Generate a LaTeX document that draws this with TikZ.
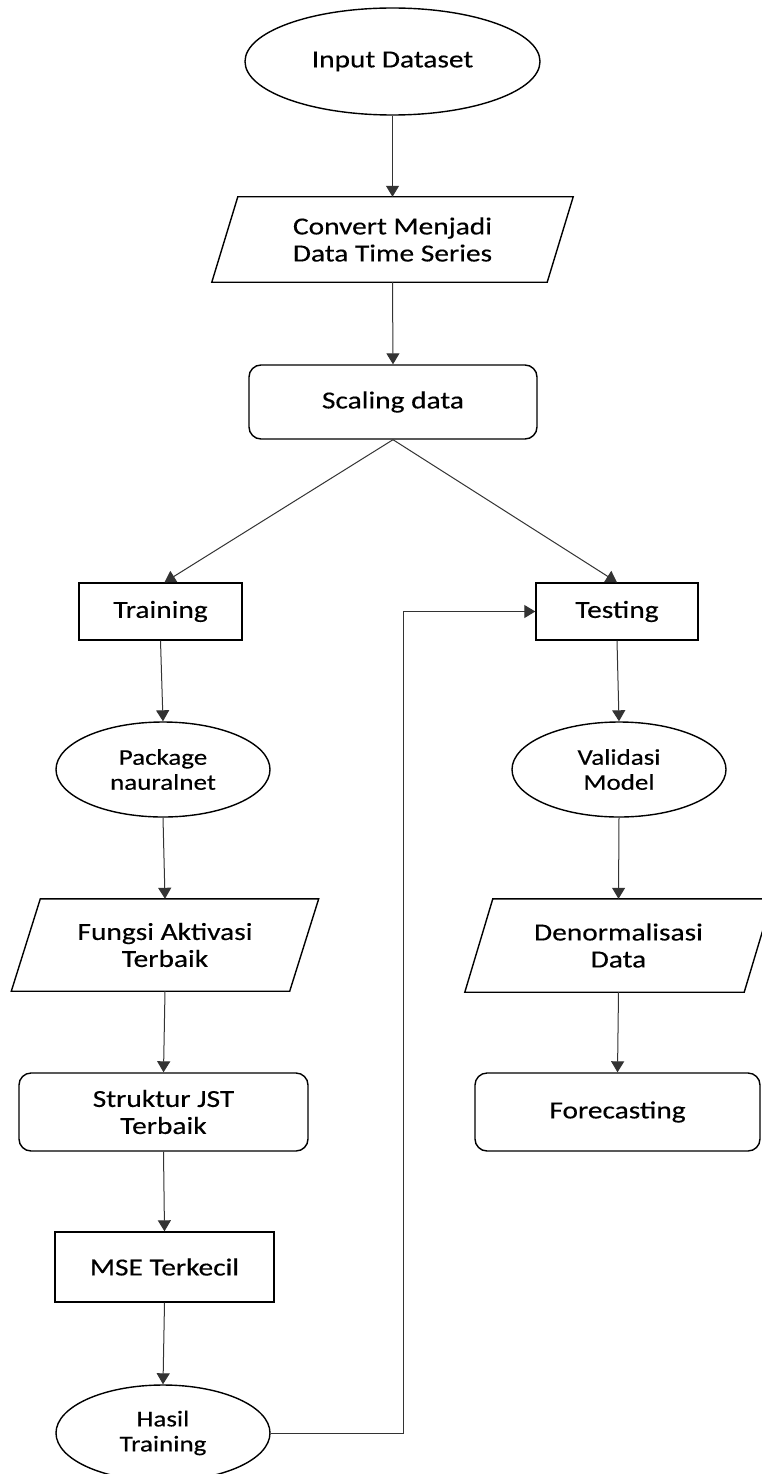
\documentclass[tikz,border=0pt]{standalone}
\usepackage{fontspec}
\setmainfont{Carlito}[FakeStretch=1.2,FakeBold=0.35]
\usetikzlibrary{shapes.geometric,arrows.meta}
\tikzset{
  txtA/.style={font=\fontsize{24.5}{27}\selectfont, align=center, inner sep=0pt},
  txtB/.style={font=\fontsize{22.5}{25}\selectfont, align=center, inner sep=0pt},
  oval/.style={ellipse, draw, line width=1.4pt},
  boxr/.style={rectangle, draw, line width=1.4pt},
  roundbox/.style={rectangle, draw, rounded corners=12pt, line width=1.4pt},
  parabox/.style={rectangle, draw=none},
  conn/.style={draw=black!80, line width=1pt, -{Triangle[width=13pt,length=11pt]}}
}
\begin{document}
\begin{tikzpicture}[x=1pt,y=-1pt]
\useasboundingbox (0,0) rectangle (761,1474);
\fill[white] (0,0) rectangle (761,1474);

% nodes
\node[oval, txtA, minimum width=295pt, minimum height=107pt] (in) at (392.5,61.5) {Input Dataset};
\node[parabox, txtA, minimum width=335pt, minimum height=85pt] (conv) at (392.5,239.5) {Convert Menjadi\\Data Time Series};
\node[roundbox, txtA, minimum width=288pt, minimum height=74pt] (scale) at (393,402) {Scaling data};
\node[boxr, txtA, minimum width=163pt, minimum height=57pt] (train) at (160.5,611.5) {Training};
\node[boxr, txtA, minimum width=162pt, minimum height=57pt] (test) at (617,611.5) {Testing};
\node[oval, txtB, minimum width=214pt, minimum height=95pt] (pkg) at (163,769.5) {Package\\nauralnet};
\node[oval, txtB, minimum width=214pt, minimum height=95pt] (valid) at (619,769.5) {Validasi\\Model};
\node[parabox, txtA, minimum width=278pt, minimum height=92pt] (fungsi) at (165,945) {Fungsi Aktivasi\\Terbaik};
\node[parabox, txtA, minimum width=279pt, minimum height=93pt] (denorm) at (618.5,945.5) {Denormalisasi\\Data};
\node[roundbox, txtA, minimum width=289pt, minimum height=78pt] (struk) at (163.5,1112) {Struktur JST\\Terbaik};
\node[roundbox, txtA, minimum width=285pt, minimum height=78pt] (fore) at (617.5,1112) {Forecasting};
\node[boxr, txtA, minimum width=219pt, minimum height=70pt] (mse) at (164.5,1267) {MSE Terkecil};
\node[oval, txtB, minimum width=214pt, minimum height=96pt] (hasil) at (163,1433) {Hasil\\Training};

% parallelogram outlines
\draw[line width=1.4pt, line join=miter]
  ([xshift=13pt]conv.north west) -- ([xshift=13pt]conv.north east) --
  ([xshift=-13pt]conv.south east) -- ([xshift=-13pt]conv.south west) -- cycle;
\draw[line width=1.4pt, line join=miter]
  ([xshift=14.5pt]fungsi.north west) -- ([xshift=14.5pt]fungsi.north east) --
  ([xshift=-14.5pt]fungsi.south east) -- ([xshift=-14.5pt]fungsi.south west) -- cycle;
\draw[line width=1.4pt, line join=miter]
  ([xshift=14pt]denorm.north west) -- ([xshift=14pt]denorm.north east) --
  ([xshift=-14pt]denorm.south east) -- ([xshift=-14pt]denorm.south west) -- cycle;

% connectors
\draw[conn] (in.south) -- (conv.north);
\draw[conn] (conv.south) -- (scale.north);
\draw[conn] (scale.south) -- ([xshift=4pt]train.north);
\draw[conn] (scale.south) -- (test.north);
\draw[conn] (train.south) -- (pkg.north);
\draw[conn] (pkg.south) -- (fungsi.north);
\draw[conn] (fungsi.south) -- (struk.north);
\draw[conn] (struk.south) -- (mse.north);
\draw[conn] (mse.south) -- (hasil.north);
\draw[conn] (test.south) -- (valid.north);
\draw[conn] (valid.south) -- (denorm.north);
\draw[conn] (denorm.south) -- (fore.north);
\coordinate (lp) at (403,1433);
\draw[conn] (hasil.east) -- (lp) |- (test.west);
\end{tikzpicture}
\end{document}
